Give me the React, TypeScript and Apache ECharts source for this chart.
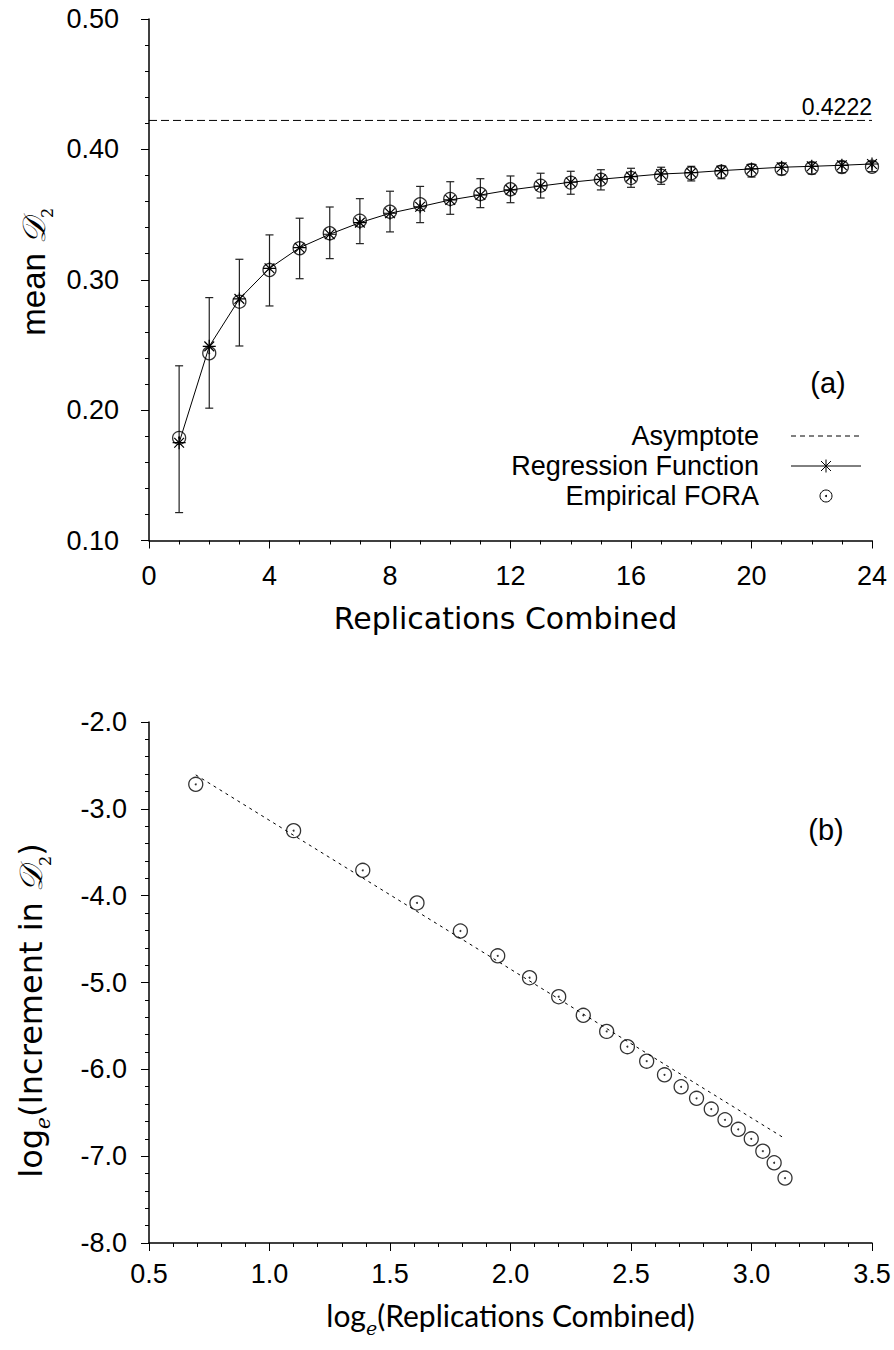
import React, { useEffect, useRef } from "react";
import * as echarts from "echarts";

// ---------- Panel (a) data ----------
const replications = [1, 2, 3, 4, 5, 6, 7, 8, 9, 10, 11, 12, 13, 14, 15, 16, 17, 18, 19, 20, 21, 22, 23, 24];
const empiricalMean = [0.1787, 0.2436, 0.2832, 0.3075, 0.3242, 0.3357, 0.3453, 0.3522, 0.3579, 0.362, 0.3658, 0.3694, 0.3722, 0.3745, 0.3768, 0.3781, 0.3798, 0.3817, 0.3829, 0.384, 0.385, 0.3857, 0.3865, 0.3867];
const errorHigh = [0.234, 0.2863, 0.3157, 0.3344, 0.3472, 0.3558, 0.3622, 0.3679, 0.3716, 0.3752, 0.3775, 0.3796, 0.3817, 0.3832, 0.3844, 0.3855, 0.3863, 0.387, 0.3873, 0.3886, 0.3893, 0.3898, 0.3906, 0.3906];
const errorLow = [0.1214, 0.2015, 0.2492, 0.2799, 0.3008, 0.3162, 0.3277, 0.3367, 0.3438, 0.3502, 0.3553, 0.3591, 0.3627, 0.3656, 0.3689, 0.3709, 0.3732, 0.3758, 0.3775, 0.3788, 0.3805, 0.3811, 0.3821, 0.3829];
const regression = [0.175, 0.2489, 0.2853, 0.3088, 0.3246, 0.3349, 0.3438, 0.351, 0.356, 0.3612, 0.365, 0.3689, 0.3719, 0.3748, 0.3771, 0.3791, 0.3811, 0.3821, 0.3837, 0.385, 0.3863, 0.387, 0.3878, 0.3888];
const asymptoteValue = 0.4222;
const asymptoteLabel = "0.4222";
const xRangeA = [0, 24];
const yRangeA = [0.1, 0.5];

// ---------- Panel (b) data ----------
const logReplications = [0.694, 1.1, 1.387, 1.612, 1.792, 1.947, 2.079, 2.2, 2.302, 2.399, 2.485, 2.565, 2.639, 2.708, 2.772, 2.833, 2.89, 2.945, 2.999, 3.047, 3.094, 3.139];
const logIncrement = [-2.718, -3.251, -3.708, -4.084, -4.407, -4.693, -4.945, -5.164, -5.378, -5.563, -5.739, -5.906, -6.063, -6.201, -6.334, -6.458, -6.581, -6.691, -6.8, -6.943, -7.076, -7.252];
const fitX = [0.694, 3.132];
const fitY = [-2.609, -6.786];
const xRangeB = [0.5, 3.5];
const yRangeB = [-8, -2];

const legendNames = ["Asymptote", "Regression Function", "Empirical FORA"];

const ASTERISK = "path://M0,-10L0,10M-10,0L10,0M-7.5,-7.5L7.5,7.5M-7.5,7.5L7.5,-7.5";
const LABEL_FONT = "'Liberation Sans', Arial, sans-serif";
const CM_FONT = "'DejaVu Sans', sans-serif";
const NARROW_FONT = "Lato, 'Open Sans', sans-serif";

function axisCommon(fmtDigits: number, margin: number) {
  return {
    type: "value" as const,
    axisLine: { show: true, onZero: false, lineStyle: { color: "#000", width: 1.5 } },
    axisTick: { show: true, inside: false, length: 8, lineStyle: { color: "#000", width: 1 } },
    splitLine: { show: false },
    minorSplitLine: { show: false },
    axisLabel: {
      color: "#000",
      fontFamily: LABEL_FONT,
      fontSize: 27,
      margin,
      formatter: (v: number) => v.toFixed(fmtDigits),
    },
  };
}

function richSet(font: string, size: number) {
  return {
    t: { fontFamily: font, fontSize: size, color: "#000", lineHeight: 44 },
    m: { fontFamily: LABEL_FONT, fontSize: 33, color: "#000", lineHeight: 44 },
    e: { fontFamily: "'DejaVu Serif', serif", fontStyle: "italic", fontSize: Math.round(size * 0.62), color: "#000", lineHeight: 44, verticalAlign: "bottom" },
    d: { fontFamily: "'DejaVu Serif', serif", fontStyle: "italic", fontSize: size, color: "#000", lineHeight: 44 },
    s: { fontFamily: "'DejaVu Serif', serif", fontSize: Math.round(size * 0.5), color: "#000", lineHeight: 44, verticalAlign: "bottom" },
  };
}

export default function App() {
  const ref = useRef<HTMLDivElement>(null);

  useEffect(() => {
    document.body.style.margin = "0";
    if (!ref.current) return;
    const chart = echarts.init(ref.current, undefined, { renderer: "svg" });

    const circleData = replications.map((n, i) => [n, empiricalMean[i]]);
    const regData = replications.map((n, i) => [n, regression[i]]);
    const errData = replications.map((n, i) => [n, errorLow[i], errorHigh[i]]);
    const logData = logReplications.map((x, i) => [x, logIncrement[i]]);

    const legendX = 759;
    const sampleL = 791;
    const sampleR = 861;
    const sampleC = 826;
    const rowY = [436, 466, 496];
    const lineStyleBlack = { stroke: "#000", lineWidth: 1 };
    const legendFont = `27px ${LABEL_FONT}`;
    const panelFont = `29px ${LABEL_FONT}`;

    const option: any = {
      animation: false,
      backgroundColor: "#fff",
      grid: [
        { left: 149, right: 22, top: 19, height: 521.5 },
        { left: 149, right: 22, top: 722, height: 521 },
      ],
      xAxis: [
        {
          ...axisCommon(0, 22),
          gridIndex: 0,
          min: xRangeA[0],
          max: xRangeA[1],
          interval: 4,
          minorTick: { show: true, splitNumber: 4, length: 4, lineStyle: { color: "#000" } },
          name: "{t|Replications Combined}",
          nameLocation: "middle",
          nameGap: 56,
          nameTextStyle: { rich: richSet(CM_FONT, 30), padding: [0, 10, 0, 0] },
        },
        {
          ...axisCommon(1, 17),
          gridIndex: 1,
          min: xRangeB[0],
          max: xRangeB[1],
          interval: 0.5,
          minorTick: { show: true, splitNumber: 5, length: 4, lineStyle: { color: "#000" } },
          name: "{t|log}{e|e}{t|(Replications Combined)}",
          nameLocation: "middle",
          nameGap: 50,
          nameTextStyle: { rich: richSet(NARROW_FONT, 30) },
        },
      ],
      yAxis: [
        {
          ...axisCommon(2, 30),
          gridIndex: 0,
          min: yRangeA[0],
          max: yRangeA[1],
          interval: 0.1,
          minorTick: { show: true, splitNumber: 5, length: 4, lineStyle: { color: "#000" } },
          name: "{m|mean }{d|𝒟}{s|2}",
          nameLocation: "middle",
          nameGap: 90,
          nameRotate: 90,
          nameTextStyle: { rich: richSet(CM_FONT, 32), padding: [0, 0, 0, 16] },
        },
        {
          ...axisCommon(1, 22),
          gridIndex: 1,
          min: yRangeB[0],
          max: yRangeB[1],
          interval: 1,
          minorTick: { show: true, splitNumber: 5, length: 4, lineStyle: { color: "#000" } },
          name: "{t|log}{e|e}{t|(Increment in }{d|𝒟}{s|2}{t|)}",
          nameLocation: "middle",
          nameGap: 96,
          nameRotate: 90,
          nameTextStyle: { rich: richSet(CM_FONT, 32), padding: [0, 56, 0, 0] },
        },
      ],
      series: [
        {
          name: legendNames[0],
          type: "line",
          xAxisIndex: 0,
          yAxisIndex: 0,
          data: [
            [xRangeA[0], asymptoteValue],
            {
              value: [xRangeA[1], asymptoteValue],
              label: {
                show: true,
                position: "top",
                align: "right",
                distance: 2,
                formatter: asymptoteLabel,
                color: "#000",
                fontFamily: LABEL_FONT,
                fontSize: 23,
              },
            },
          ],
          symbol: "circle",
          symbolSize: 0,
          showSymbol: true,
          lineStyle: { color: "#000", width: 1, type: [8, 4] },
          itemStyle: { color: "#000" },
          silent: true,
          z: 2,
        },
        {
          name: "Error bars",
          type: "custom",
          xAxisIndex: 0,
          yAxisIndex: 0,
          data: errData,
          encode: { x: 0, y: [1, 2] },
          renderItem: (params: any, api: any) => {
            const lo = api.coord([api.value(0), api.value(1)]);
            const hi = api.coord([api.value(0), api.value(2)]);
            const w = 4;
            const style = { stroke: "#222", lineWidth: 1.2 };
            return {
              type: "group",
              children: [
                { type: "line", shape: { x1: hi[0], y1: hi[1], x2: lo[0], y2: lo[1] }, style },
                { type: "line", shape: { x1: hi[0] - w, y1: hi[1], x2: hi[0] + w, y2: hi[1] }, style },
                { type: "line", shape: { x1: lo[0] - w, y1: lo[1], x2: lo[0] + w, y2: lo[1] }, style },
              ],
            };
          },
          z: 3,
        },
        {
          name: legendNames[1],
          type: "line",
          xAxisIndex: 0,
          yAxisIndex: 0,
          data: regData,
          symbol: ASTERISK,
          symbolSize: 13,
          showSymbol: true,
          lineStyle: { color: "#000", width: 1 },
          itemStyle: { color: "#000", borderColor: "#000", borderWidth: 1.2 },
          z: 4,
        },
        {
          name: legendNames[2],
          type: "scatter",
          xAxisIndex: 0,
          yAxisIndex: 0,
          data: circleData,
          symbol: "circle",
          symbolSize: 13,
          itemStyle: { color: "transparent", borderColor: "#000", borderWidth: 1.3 },
          z: 5,
        },
        {
          name: "Empirical FORA centre",
          type: "scatter",
          xAxisIndex: 0,
          yAxisIndex: 0,
          data: circleData,
          symbol: "circle",
          symbolSize: 2,
          itemStyle: { color: "#000" },
          z: 5,
        },
        {
          name: "Fitted line",
          type: "line",
          xAxisIndex: 1,
          yAxisIndex: 1,
          data: fitX.map((x, i) => [x, fitY[i]]),
          showSymbol: false,
          symbol: "none",
          lineStyle: { color: "#000", width: 1, type: [3, 4] },
          z: 2,
        },
        {
          name: "Log increment",
          type: "scatter",
          xAxisIndex: 1,
          yAxisIndex: 1,
          data: logData,
          symbol: "circle",
          symbolSize: 14,
          itemStyle: { color: "transparent", borderColor: "#000", borderWidth: 1.3 },
          z: 5,
        },
        {
          name: "Log increment centre",
          type: "scatter",
          xAxisIndex: 1,
          yAxisIndex: 1,
          data: logData,
          symbol: "circle",
          symbolSize: 2,
          itemStyle: { color: "#000" },
          z: 5,
        },
      ],
      graphic: [
        {
          type: "text",
          x: 828,
          y: 383,
          style: { text: "(a)", fill: "#000", font: panelFont, align: "center", verticalAlign: "middle" },
        },
        {
          type: "text",
          x: 826,
          y: 830,
          style: { text: "(b)", fill: "#000", font: panelFont, align: "center", verticalAlign: "middle" },
        },
        ...legendNames.map((name, i) => ({
          type: "text",
          x: legendX,
          y: rowY[i],
          style: {
            text: name,
            fill: "#000",
            font: legendFont,
            lineHeight: 28,
            align: "right",
            verticalAlign: "middle",
          },
        })),
        {
          type: "line",
          shape: { x1: sampleL, y1: rowY[0], x2: sampleR, y2: rowY[0] },
          style: { ...lineStyleBlack, lineDash: [5, 4] },
        },
        {
          type: "line",
          shape: { x1: sampleL, y1: rowY[1], x2: sampleR, y2: rowY[1] },
          style: lineStyleBlack,
        },
        {
          type: "group",
          x: sampleC,
          y: rowY[1],
          children: [
            { type: "line", shape: { x1: 0, y1: -6.5, x2: 0, y2: 6.5 }, style: lineStyleBlack },
            { type: "line", shape: { x1: -5, y1: -5, x2: 5, y2: 5 }, style: lineStyleBlack },
            { type: "line", shape: { x1: -5, y1: 5, x2: 5, y2: -5 }, style: lineStyleBlack },
          ],
        },
        {
          type: "circle",
          shape: { cx: sampleC, cy: rowY[2], r: 6 },
          style: { fill: "none", stroke: "#000", lineWidth: 1 },
        },
        {
          type: "circle",
          shape: { cx: sampleC, cy: rowY[2], r: 1 },
          style: { fill: "#000" },
        },
      ],
    };

    chart.setOption(option);
    return () => chart.dispose();
  }, []);

  return <div ref={ref} style={{ width: 894, height: 1350 }} />;
}
